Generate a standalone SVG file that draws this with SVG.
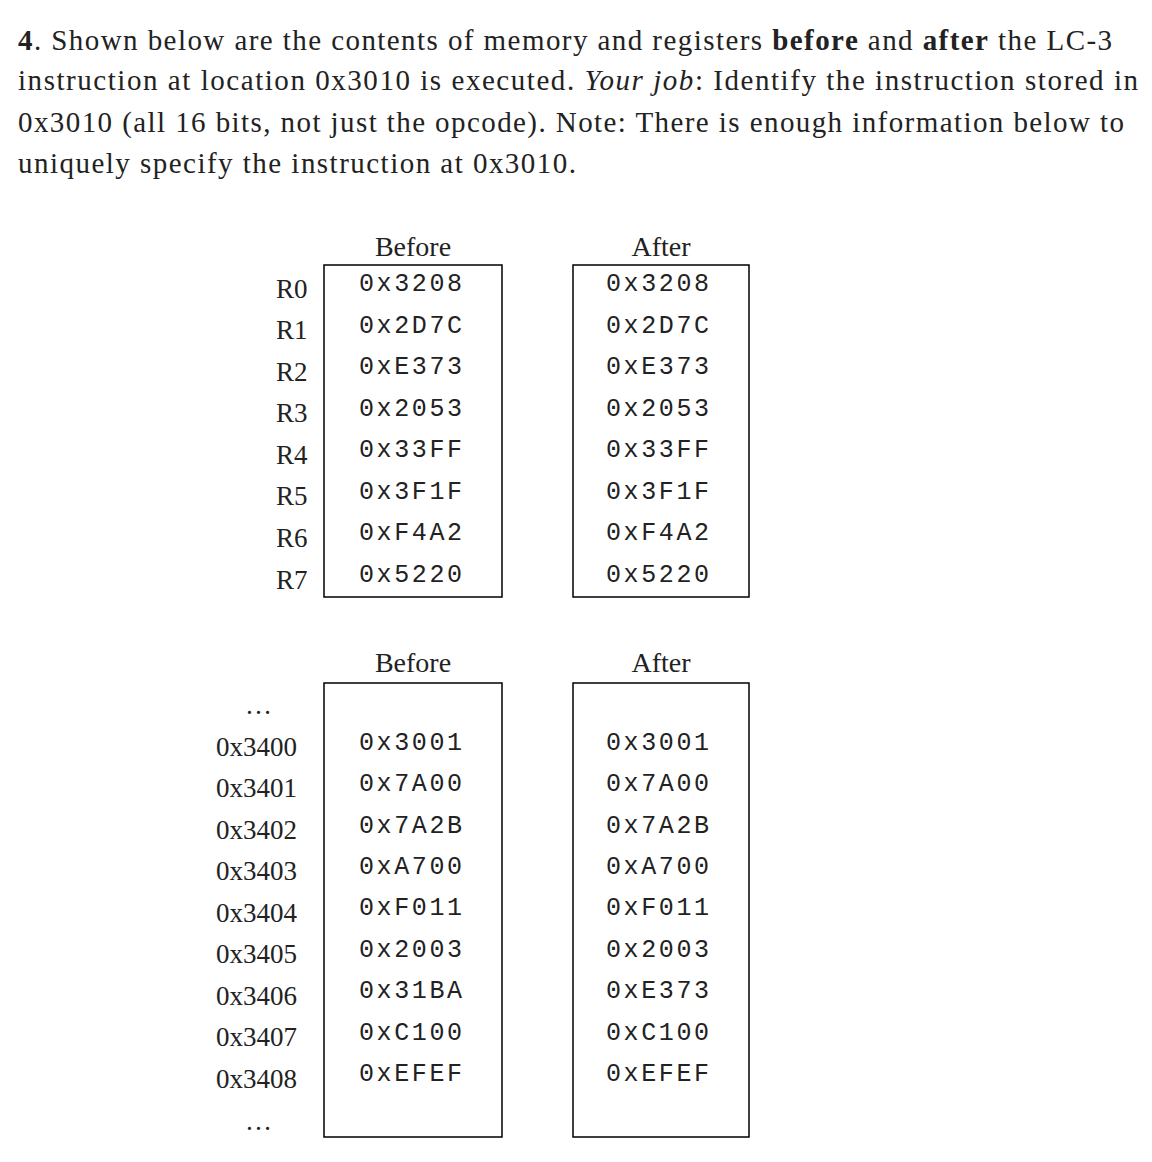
<svg xmlns="http://www.w3.org/2000/svg" width="1152" height="1162" viewBox="0 0 1152 1162">
<style>
.t{font-family:"Liberation Serif",serif;font-size:29px;fill:#222}
.l{font-family:"Liberation Serif",serif;font-size:27px;fill:#222}
.m{font-family:"Liberation Mono",monospace;font-size:25px;fill:#222;letter-spacing:2.6px}
.b{fill:none;stroke:#000;stroke-width:1.5}
.h{font-family:"Liberation Serif",serif;font-size:28px;fill:#222;text-anchor:middle}
</style>
<rect width="1152" height="1162" fill="#fff"/>
<text class="t" x="18" y="50" textLength="1094"><tspan font-weight="bold">4</tspan>. Shown below are the contents of memory and registers <tspan font-weight="bold">before</tspan> and <tspan font-weight="bold">after</tspan> the LC-3</text>
<text class="t" x="18" y="90" textLength="1120">instruction at location 0x3010 is executed.  <tspan font-style="italic">Your job</tspan>: Identify the instruction stored in</text>
<text class="t" x="18" y="132" textLength="1106">0x3010 (all 16 bits, not just the opcode). Note: There is enough information below to</text>
<text class="t" x="18" y="173" textLength="558">uniquely specify the instruction at 0x3010.</text>
<text class="h" x="413" y="256">Before</text><text class="h" x="661" y="256">After</text>
<text class="h" x="413" y="672">Before</text><text class="h" x="661" y="672">After</text>
<rect class="b" x="324" y="265" width="178" height="332"/>
<rect class="b" x="573" y="265" width="176" height="332"/>
<rect class="b" x="324" y="683" width="178" height="454"/>
<rect class="b" x="573" y="683" width="176" height="454"/>
<g class="l">
<text x="276" y="298">R0</text><text x="276" y="339">R1</text><text x="276" y="381">R2</text><text x="276" y="422">R3</text><text x="276" y="464">R4</text><text x="276" y="505">R5</text><text x="276" y="547">R6</text><text x="276" y="589">R7</text>
<text x="245" y="714">…</text>
<text x="216" y="756">0x3400</text><text x="216" y="797">0x3401</text><text x="216" y="839">0x3402</text><text x="216" y="880">0x3403</text><text x="216" y="922">0x3404</text><text x="216" y="963">0x3405</text><text x="216" y="1005">0x3406</text><text x="216" y="1046">0x3407</text><text x="216" y="1088">0x3408</text>
<text x="245" y="1130">…</text>
</g>
<g class="m">
<text x="359" y="291">0x3208</text><text x="359" y="333">0x2D7C</text><text x="359" y="374">0xE373</text><text x="359" y="416">0x2053</text><text x="359" y="457">0x33FF</text><text x="359" y="499">0x3F1F</text><text x="359" y="540">0xF4A2</text><text x="359" y="582">0x5220</text>
<text x="606" y="291">0x3208</text><text x="606" y="333">0x2D7C</text><text x="606" y="374">0xE373</text><text x="606" y="416">0x2053</text><text x="606" y="457">0x33FF</text><text x="606" y="499">0x3F1F</text><text x="606" y="540">0xF4A2</text><text x="606" y="582">0x5220</text>
<text x="359" y="750">0x3001</text><text x="359" y="791">0x7A00</text><text x="359" y="833">0x7A2B</text><text x="359" y="874">0xA700</text><text x="359" y="915">0xF011</text><text x="359" y="957">0x2003</text><text x="359" y="998">0x31BA</text><text x="359" y="1040">0xC100</text><text x="359" y="1081">0xEFEF</text>
<text x="606" y="750">0x3001</text><text x="606" y="791">0x7A00</text><text x="606" y="833">0x7A2B</text><text x="606" y="874">0xA700</text><text x="606" y="915">0xF011</text><text x="606" y="957">0x2003</text><text x="606" y="998">0xE373</text><text x="606" y="1040">0xC100</text><text x="606" y="1081">0xEFEF</text>
</g>
</svg>
